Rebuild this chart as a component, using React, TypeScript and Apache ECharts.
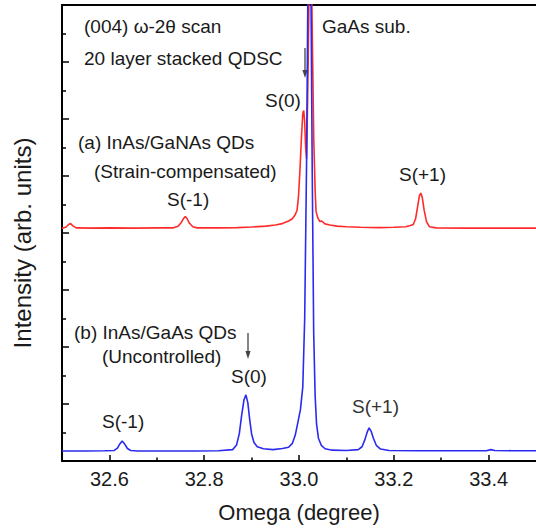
import React, { useEffect, useRef } from "react";
import * as echarts from "echarts";

// Curve (a): InAs/GaNAs QDs (strain-compensated), offset upward
const omegaA = [
  32.5, 32.508, 32.514, 32.518, 32.523, 32.53, 32.56, 32.6, 32.65, 32.7, 32.735, 32.745, 32.752,
  32.757, 32.76, 32.764, 32.769, 32.776, 32.785, 32.83, 32.87, 32.9, 32.93, 32.95, 32.965, 32.978,
  32.986, 32.992, 32.996, 32.999, 33.002, 33.005, 33.008, 33.01, 33.012, 33.014, 33.016, 33.019,
  33.022, 33.025, 33.028, 33.031, 33.034, 33.036, 33.04, 33.044, 33.048, 33.055, 33.065, 33.08,
  33.1, 33.13, 33.17, 33.2, 33.225, 33.235, 33.241, 33.246, 33.25, 33.254, 33.257, 33.26, 33.264,
  33.269, 33.275, 33.29, 33.35, 33.42, 33.5,
];
const intensityA = [
  8.17, 8.2, 8.3, 8.33, 8.25, 8.18, 8.17, 8.18, 8.17, 8.18, 8.18, 8.24, 8.38,
  8.52, 8.58, 8.5, 8.34, 8.22, 8.18, 8.18, 8.19, 8.21, 8.24, 8.28, 8.33, 8.42,
  8.5, 8.64, 8.8, 9.3, 10.2, 11.3, 12.2, 12.3, 11.9, 11.0, 10.6, 13.5,
  17.5, 19, 15, 11.4, 9.5, 8.75, 8.52, 8.4, 8.42, 8.32, 8.28, 8.24,
  8.22, 8.2, 8.19, 8.2, 8.22, 8.26, 8.3, 8.5, 8.9, 9.3, 9.4, 9.25, 8.8,
  8.4, 8.22, 8.18, 8.17, 8.17, 8.17,
];

// Curve (b): InAs/GaAs QDs (uncontrolled)
const omegaB = [
  32.5, 32.55, 32.59, 32.61, 32.617, 32.622, 32.627, 32.632, 32.638, 32.645, 32.66, 32.72, 32.78,
  32.83, 32.86, 32.868, 32.874, 32.879, 32.884, 32.888, 32.892, 32.896, 32.9, 32.905, 32.912,
  32.925, 32.945, 32.965, 32.978, 32.986, 32.992, 32.997, 33.003, 33.008, 33.012, 33.016, 33.019,
  33.022, 33.025, 33.028, 33.031, 33.034, 33.037, 33.041, 33.047, 33.055, 33.07, 33.1, 33.125,
  33.133, 33.139, 33.144, 33.148, 33.152, 33.157, 33.163, 33.172, 33.19, 33.25, 33.33, 33.395,
  33.405, 33.413, 33.45, 33.5,
];
const intensityB = [
  0.35, 0.35, 0.36, 0.37, 0.45, 0.6, 0.7, 0.6, 0.44, 0.37, 0.35, 0.35, 0.35,
  0.36, 0.4, 0.55, 0.95, 1.6, 2.15, 2.32, 2.05, 1.45, 0.95, 0.65, 0.5,
  0.43, 0.4, 0.44, 0.48, 0.62, 0.9, 1.3, 1.8, 2.6, 5.0, 10.5, 17,
  20, 17, 10, 4.5, 2.3, 1.3, 0.8, 0.55, 0.43, 0.38, 0.37, 0.4,
  0.5, 0.75, 1.02, 1.16, 1.05, 0.8, 0.55, 0.42, 0.37, 0.36, 0.36, 0.36,
  0.4, 0.37, 0.36, 0.36,
];

const xMajorTicks = [32.6, 32.8, 33.0, 33.2, 33.4];
const xMinorTicks = [32.7, 32.9, 33.1, 33.3];

const FONT = "'Liberation Sans', Arial, Helvetica, sans-serif";
const TXT = "#1a1a1a";

function label(text: string, x: number, y: number, size = 19, color = TXT) {
  return {
    type: "text",
    x,
    y,
    silent: true,
    style: {
      text,
      font: `${size}px ${FONT}`,
      fill: color,
      textAlign: "left",
      textVerticalAlign: "middle",
      align: "left",
      verticalAlign: "middle",
    },
  };
}

function arrow(x: number, y1: number, y2: number) {
  return [
    {
      type: "line",
      silent: true,
      shape: { x1: x, y1, x2: x, y2: y2 - 6 },
      style: { stroke: "#444", lineWidth: 1.3 },
    },
    {
      type: "polygon",
      silent: true,
      shape: { points: [[x - 2.6, y2 - 8], [x + 2.6, y2 - 8], [x, y2]] },
      style: { fill: "#444" },
    },
  ];
}

export default function App() {
  const ref = useRef<HTMLDivElement>(null);
  useEffect(() => {
    if (!ref.current) return;
    const chart = echarts.init(ref.current, undefined, { renderer: "svg" });
    const dataA = omegaA.map((w, i) => [w, intensityA[i]]);
    const dataB = omegaB.map((w, i) => [w, intensityB[i]]);
    const axisLine = { show: true, lineStyle: { color: "#000", width: 2 } };
    chart.setOption({
      animation: false,
      backgroundColor: "#fff",
      grid: { left: 62, top: 5, right: -6, bottom: 69, containLabel: false },
      xAxis: [
        {
          type: "value",
          min: 32.5,
          max: 33.5,
          position: "bottom",
          axisLine,
          axisTick: {
            show: true,
            inside: true,
            length: 6,
            lineStyle: { color: "#000", width: 1.5 },
            customValues: xMajorTicks,
          },
          axisLabel: {
            show: true,
            customValues: xMajorTicks,
            formatter: (v: number) => v.toFixed(1),
            fontSize: 20,
            fontFamily: FONT,
            color: TXT,
            margin: 8,
          },
          splitLine: { show: false },
          name: "Omega (degree)",
          nameLocation: "middle",
          nameGap: 40,
          nameTextStyle: { fontSize: 22, fontFamily: FONT, color: TXT },
        },
        {
          type: "value",
          min: 32.5,
          max: 33.5,
          position: "bottom",
          axisLine: { show: false },
          axisTick: {
            show: true,
            inside: true,
            length: 3.5,
            lineStyle: { color: "#000", width: 1.5 },
            customValues: xMinorTicks,
          },
          axisLabel: { show: false, customValues: xMinorTicks },
          splitLine: { show: false },
        },
        {
          type: "value",
          min: 32.5,
          max: 33.5,
          position: "top",
          axisLine,
          axisTick: { show: false },
          axisLabel: { show: false },
          splitLine: { show: false },
        },
      ],
      yAxis: {
        type: "value",
        min: 0,
        max: 16,
        interval: 2,
        axisLine,
        axisTick: { show: true, inside: true, length: 7, lineStyle: { color: "#000", width: 1.5 } },
        minorTick: { show: true, splitNumber: 2, length: 4, lineStyle: { color: "#000", width: 1.5 } },
        axisLabel: { show: false },
        splitLine: { show: false },
        minorSplitLine: { show: false },
        name: "Intensity (arb. units)",
        nameLocation: "middle",
        nameGap: 28,
        nameTextStyle: { fontSize: 24, fontFamily: FONT, color: TXT, padding: [0, 20, 0, 0] },
      },
      series: [
        {
          name: "(a) InAs/GaNAs QDs",
          type: "line",
          xAxisIndex: 0,
          data: dataA,
          showSymbol: false,
          clip: true,
          lineStyle: { color: "#ff2b2b", width: 1.6 },
          itemStyle: { color: "#ff2b2b" },
        },
        {
          name: "(b) InAs/GaAs QDs",
          type: "line",
          xAxisIndex: 0,
          data: dataB,
          showSymbol: false,
          clip: true,
          lineStyle: { color: "#2a2af0", width: 1.6 },
          itemStyle: { color: "#2a2af0" },
        },
      ],
      graphic: [
        label("(004) \u03c9-2\u03b8 scan", 84, 26),
        label("20 layer stacked QDSC", 84, 58),
        ...arrow(305, 48, 78),
        label("S(0)", 265, 100),
        label("GaAs sub.", 322, 26),
        label("(a) InAs/GaNAs QDs", 78, 142),
        label("(Strain-compensated)", 94, 171),
        label("S(+1)", 399, 174),
        label("S(-1)", 167, 199),
        label("(b) InAs/GaAs QDs", 74, 332),
        label("(Uncontrolled)", 102, 356),
        ...arrow(248, 333, 359),
        label("S(0)", 231, 376),
        label("S(+1)", 352, 406, 19, "#333"),
        label("S(-1)", 102, 421),
      ],
    });
    return () => chart.dispose();
  }, []);
  return (
    <div
      ref={ref}
      style={{ position: "fixed", left: 0, top: 0, width: 536, height: 530, background: "#fff" }}
    />
  );
}
